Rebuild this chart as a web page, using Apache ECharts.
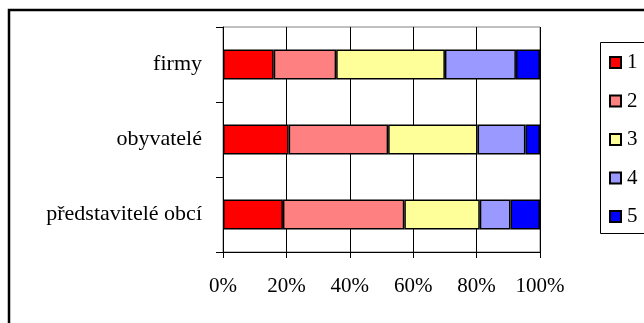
<!DOCTYPE html>
<html>
<head>
<meta charset="utf-8">
<script src="https://cdn.jsdelivr.net/npm/echarts@6/dist/echarts.min.js"></script>
<style>
  html, body { margin: 0; padding: 0; background: #fff; }
  #chart { width: 644px; height: 323px; }
</style>
</head>
<body>
<div id="chart"></div>
<script>
// Respondent groups (top to bottom)
const categories = ['firmy', 'obyvatelé', 'představitelé obcí'];
// Rating levels shown in the legend
const seriesNames = ['1', '2', '3', '4', '5'];
// Share of answers per rating level (%), in category order
const rating1 = [16.0, 20.7, 18.9];
const rating2 = [19.7, 31.4, 38.3];
const rating3 = [34.3, 28.2, 23.8];
const rating4 = [22.4, 15.1, 9.7];
const rating5 = [7.6, 4.6, 9.3];
const xTicks = [0, 20, 40, 60, 80, 100];

const values = [rating1, rating2, rating3, rating4, rating5];
const colors = ['#FF0000', '#FF8080', '#FFFF99', '#9999FF', '#0000FF'];
const font = 'Liberation Serif, Times New Roman, serif';

const chart = echarts.init(document.getElementById('chart'), null, { renderer: 'canvas' });

chart.setOption({
  animation: false,
  backgroundColor: '#fff',
  textStyle: { fontFamily: font },
  graphic: [
    {
      type: 'rect',
      z: -1,
      shape: { x: 9, y: 10, width: 700, height: 400 },
      style: { fill: 'none', stroke: '#000', lineWidth: 2.5 }
    },
    {
      type: 'rect',
      z: -1,
      shape: { x: 600.5, y: 42.5, width: 100, height: 191 },
      style: { fill: '#fff', stroke: '#000', lineWidth: 1 }
    }
  ],
  legend: {
    orient: 'vertical',
    left: 609,
    top: 52,
    padding: 0,
    itemWidth: 11,
    itemHeight: 11,
    itemGap: 17.5,
    icon: 'rect',
    data: seriesNames,
    textStyle: { fontFamily: font, fontSize: 21, color: '#000', lineHeight: 21, padding: [0, 0, 0, 1] }
  },
  grid: {
    left: 223,
    top: 27,
    width: 317,
    height: 225,
    show: true,
    borderColor: '#808080',
    borderWidth: 1,
    containLabel: false
  },
  xAxis: {
    type: 'value',
    min: xTicks[0],
    max: xTicks[xTicks.length - 1],
    interval: xTicks[1] - xTicks[0],
    axisLine: { show: true, lineStyle: { color: '#000', width: 1 } },
    axisTick: { show: true, length: 6, lineStyle: { color: '#000' } },
    axisLabel: {
      formatter: '{value}%',
      fontFamily: font,
      fontSize: 21,
      color: '#000',
      margin: 24
    },
    splitLine: { show: true, lineStyle: { color: '#000', width: 1 } }
  },
  yAxis: {
    type: 'category',
    data: categories,
    inverse: true,
    axisLine: { show: true, lineStyle: { color: '#000', width: 1 } },
    axisTick: { show: true, length: 7, lineStyle: { color: '#000' } },
    axisLabel: {
      fontFamily: font,
      fontSize: 22,
      color: '#000',
      margin: 21
    },
    splitLine: { show: false }
  },
  series: seriesNames.map((name, i) => ({
    name: name,
    type: 'bar',
    stack: 'total',
    barCategoryGap: '60%',
    data: values[i],
    itemStyle: { color: colors[i], borderColor: '#000', borderWidth: 1.5 }
  }))
});
</script>
</body>
</html>
